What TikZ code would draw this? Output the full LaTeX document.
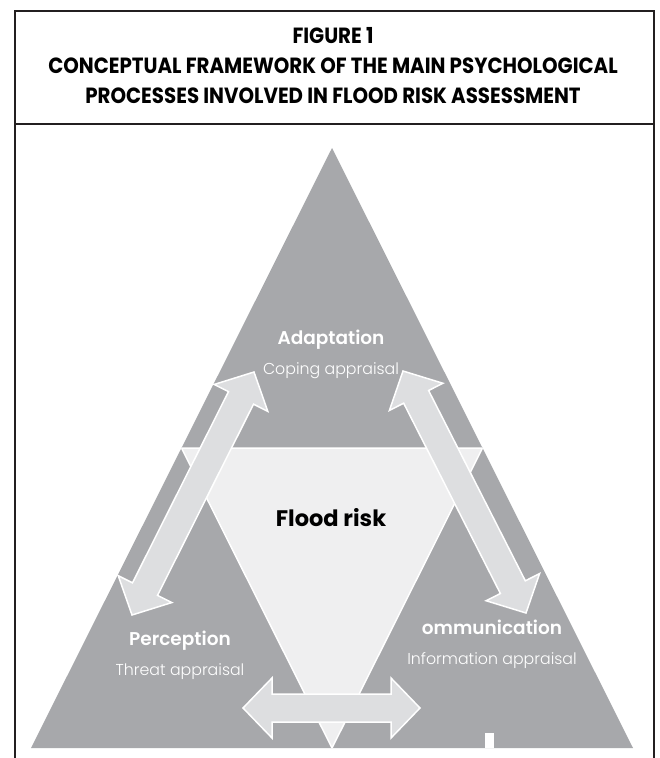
\documentclass[tikz,border=0pt]{standalone}
\usepackage{fontspec}
\setmainfont{Poppins}
\newfontfamily\titlefont[FakeStretch=0.9]{Poppins}
\newfontfamily\lightfont{Poppins Light}
\usepackage{tikz}
\usetikzlibrary{calc}
\definecolor{tridark}{RGB}{167,168,171}
\definecolor{trilight}{RGB}{239,239,240}
\definecolor{arrowfill}{RGB}{221,222,224}
\definecolor{framegrey}{RGB}{35,31,32}
\newcommand{\dblarrow}[2]{%
  \draw[bigarrow] (#1)
    -- ($(#1)!29pt!(#2)!30pt!90:(#2)$) -- ($(#1)!29pt!(#2)!14pt!90:(#2)$)
    -- ($(#2)!29pt!(#1)!14pt!-90:(#1)$) -- ($(#2)!29pt!(#1)!30pt!-90:(#1)$)
    -- (#2)
    -- ($(#2)!29pt!(#1)!30pt!90:(#1)$) -- ($(#2)!29pt!(#1)!14pt!90:(#1)$)
    -- ($(#1)!29pt!(#2)!14pt!-90:(#2)$) -- ($(#1)!29pt!(#2)!30pt!-90:(#2)$)
    -- cycle;}
\newcommand{\hd}[1]{{\bfseries\fontsize{18.5}{30}\selectfont #1}}

\begin{document}
\begin{tikzpicture}[x=1pt,y=-1pt,
    frame/.style={draw=framegrey,line width=2.4pt},
    bigarrow/.style={fill=arrowfill,draw=white,line width=1.5pt,line join=miter},
    lbl/.style={text=white,align=center,font=\lightfont\fontsize{15.8}{30}\selectfont}]
  \useasboundingbox (0,0) rectangle (659,758);
  \fill[white] (0,0) rectangle (659,758);
  \draw[frame] (15,758) -- (15,11) -- (654,11) -- (654,758);
  \draw[frame] (15,124) -- (654,124);
  \node (title) at (333,66) [align=center,font=\titlefont\bfseries\fontsize{22}{30}\selectfont]
    {FIGURE 1\\CONCEPTUAL FRAMEWORK OF THE MAIN PSYCHOLOGICAL\\PROCESSES INVOLVED IN FLOOD RISK ASSESSMENT};

  \coordinate (t) at (332,148);
  \coordinate (l) at (31,748);
  \coordinate (r) at (633,748);
  \coordinate (ml) at ($(t)!0.5!(l)$);
  \coordinate (mr) at ($(t)!0.5!(r)$);
  \coordinate (mb) at ($(l)!0.5!(r)$);
  \fill[tridark] (t) -- (l) -- (r) -- cycle;
  \begin{scope}
    \clip (t) -- (l) -- (r) -- cycle;
    \filldraw[fill=trilight,draw=white,line width=1.5pt] (ml) -- (mr) -- (mb) -- cycle;
  \end{scope}
  \fill[white] (485,733) rectangle (494,748);

  \coordinate (adl) at (254,372);
  \coordinate (pel) at (132,615);
  \coordinate (adr) at (403,371);
  \coordinate (cor) at (526,613);
  \coordinate (pec) at (243,708);
  \coordinate (cop) at (420,708);
  \dblarrow{pel}{adl}
  \dblarrow{adr}{cor}
  \dblarrow{pec}{cop}

  \node[lbl] (ad) at (331,354) {\hd{Adaptation}\\Coping appraisal};
  \node[lbl] (pe) at (180,655) {\hd{Perception}\\Threat appraisal};
  \node[lbl] (co) at (492,644) {\hd{ommunication}\\Information appraisal};
  \node (fr) at (331,518) [font=\bfseries\fontsize{22.5}{26}\selectfont] {Flood risk};
\end{tikzpicture}
\end{document}
